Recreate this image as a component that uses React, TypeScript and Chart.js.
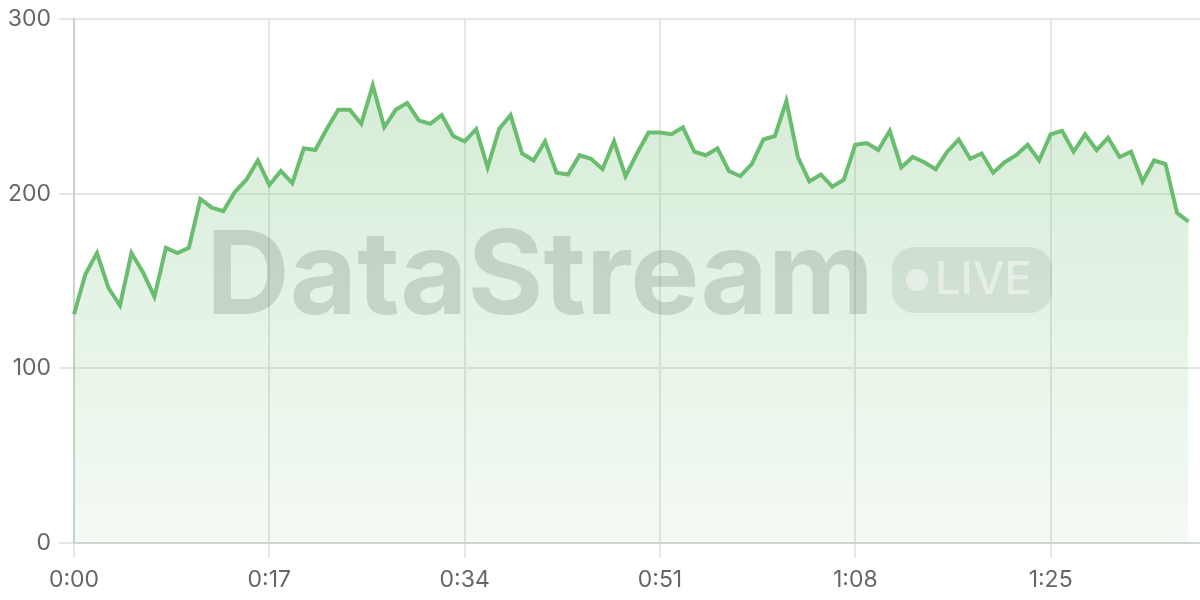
import React, { useEffect, useRef } from "react";
import { Chart, registerables } from "chart.js";

Chart.register(...registerables);

// Values per second, 0:00 .. 1:37
const values: number[] = [
  131, 154, 166, 146, 136, 166, 155, 141, 169, 166,
  169, 197, 192, 190, 201, 208, 219, 205, 213, 206,
  226, 225, 237, 248, 248, 240, 262, 238, 248, 252,
  242, 240, 245, 233, 230, 237, 215, 237, 245, 223,
  219, 230, 212, 211, 222, 220, 214, 230, 210, 223,
  235, 235, 234, 238, 224, 222, 226, 213, 210, 217,
  231, 233, 253, 221, 207, 211, 204, 208, 228, 229,
  225, 236, 215, 221, 218, 214, 224, 231, 220, 223,
  212, 218, 222, 228, 219, 234, 236, 224, 234, 225,
  232, 221, 224, 207, 219, 217, 189, 184,
];

// Axis spans one extra second beyond the last sample
const totalSeconds = 98;
const tickEvery = 17;
const yTicks: number[] = [0, 100, 200, 300];

const fmt = (s: number) => `${Math.floor(s / 60)}:${String(s % 60).padStart(2, "0")}`;
const labels: string[] = Array.from({ length: totalSeconds + 1 }, (_, i) => fmt(i));

const FONT = 'Inter, "Helvetica Neue", Arial, sans-serif';

export default function App() {
  const ref = useRef<HTMLCanvasElement | null>(null);

  useEffect(() => {
    if (!ref.current) return;
    const chart = new Chart(ref.current, {
      type: "line",
      data: {
        labels,
        datasets: [
          {
            data: values,
            borderColor: "#6abd6f",
            borderWidth: 4,
            pointRadius: 0,
            pointHoverRadius: 0,
            pointBorderWidth: 0,
            tension: 0,
            fill: "origin",
            backgroundColor: (ctx: any) => {
              const ca = ctx.chart.chartArea;
              if (!ca) return "rgba(102,187,106,0.2)";
              const g = ctx.chart.ctx.createLinearGradient(0, ca.top, 0, ca.bottom);
              g.addColorStop(0, "rgba(102,187,106,0.30)");
              g.addColorStop(1, "rgba(102,187,106,0.07)");
              return g;
            },
          },
        ],
      },
      options: {
        animation: false,
        responsive: false,
        maintainAspectRatio: false,
        layout: { autoPadding: false, padding: { top: 19, right: 0, left: 0, bottom: 0 } },
        plugins: { legend: { display: false }, tooltip: { enabled: false } },
        scales: {
          x: {
            type: "category",
            offset: false,
            afterFit: (s: any) => {
              s.height = 57;
              s.paddingLeft = 0;
              s.paddingRight = 0;
            },
            grid: {
              color: (c: any) => (c.index % tickEvery === 0 ? "#e6e6e6" : "rgba(0,0,0,0)"),
              tickColor: (c: any) => (c.index % tickEvery === 0 ? "#e6e6e6" : "rgba(0,0,0,0)"),
              tickLength: 15,
              lineWidth: 2,
            },
            border: { color: "#d0d6d0", width: 2 },
            ticks: {
              autoSkip: false,
              maxRotation: 0,
              padding: 8,
              color: "#666",
              font: { family: FONT, size: 23 },
              callback: (_v: any, i: number) => (i % tickEvery === 0 ? labels[i] : ""),
            },
          },
          y: {
            min: 0,
            max: 300,
            afterFit: (s: any) => {
              s.width = 74;
              s.paddingTop = 0;
              s.paddingBottom = 0;
            },
            afterBuildTicks: (s: any) => {
              s.ticks = yTicks.map((v) => ({ value: v }));
            },
            grid: { color: "#e6e6e6", tickLength: 15, lineWidth: 2 },
            border: { color: "#d0d0d0", width: 2 },
            ticks: {
              padding: 8,
              color: "#666",
              font: { family: FONT, size: 23 },
            },
          },
        },
      },
    });
    return () => chart.destroy();
  }, []);

  return (
    <div style={{ position: "fixed", left: 0, top: 0, width: 1200, height: 600, background: "#fff" }}>
      <canvas ref={ref} width={1200} height={600} style={{ display: "block" }} />
      <div
        style={{
          position: "absolute",
          left: 206,
          top: 214,
          fontFamily: "Inter, sans-serif",
          fontWeight: 700,
          fontSize: 116,
          lineHeight: 1,
          color: "rgba(90,105,90,0.22)",
          pointerEvents: "none",
          whiteSpace: "nowrap",
        }}
      >
        DataStream
      </div>
      <div
        style={{
          position: "absolute",
          left: 892,
          top: 247,
          width: 160,
          height: 66,
          borderRadius: 22,
          background: "rgba(90,105,90,0.13)",
          pointerEvents: "none",
        }}
      >
        <div
          style={{
            position: "absolute",
            left: 14,
            top: 22,
            width: 22,
            height: 22,
            borderRadius: 11,
            background: "rgba(255,255,255,0.45)",
          }}
        />
        <div
          style={{
            position: "absolute",
            left: 43,
            top: 8,
            fontFamily: "Inter, sans-serif",
            fontWeight: 500,
            fontSize: 45,
            lineHeight: 1,
            color: "rgba(255,255,255,0.45)",
            whiteSpace: "nowrap",
          }}
        >
          LIVE
        </div>
      </div>
    </div>
  );
}
